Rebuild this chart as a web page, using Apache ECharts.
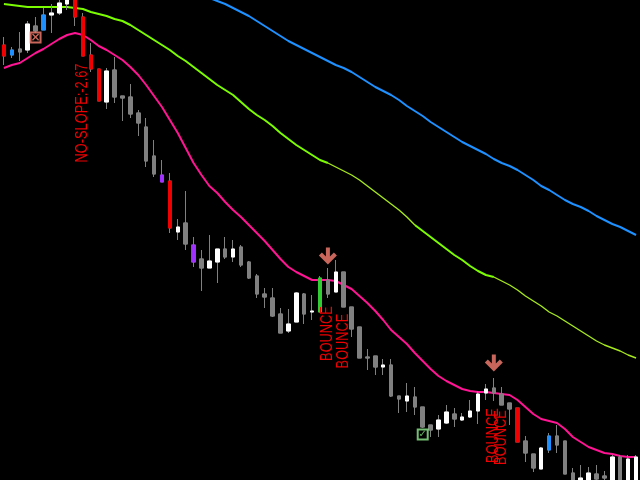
<!DOCTYPE html>
<html>
<head>
<meta charset="utf-8">
<script src="https://cdn.jsdelivr.net/npm/echarts@6/dist/echarts.min.js"></script>
<style>
html,body{margin:0;padding:0;background:#000;}
#chart{width:640px;height:480px;}
</style>
</head>
<body>
<div id="chart"></div>
<script>
// ---- data (price in points) ----
var bars = [];
for (var i = 1; i <= 81; i++) bars.push('Bar ' + i);

var open  = [435,425,431,430,454,450,465,467,476,485,463,425,411,378,410,384,383,367,353,324,305,299,248,257,235,221,212,218,231,223,233,218,204,186,182,166,149,158,186,168,168,200,188,208,173,153,123,124,113,115,84,79,83,73,55,51,57,66,60,63,69,87,92,86,77,72,39,26,11,30,44,39,7,-6,-6,6,4,-5,23,-5,-5];
var close = [424,430,428,456,449,465,467,477,482,463,424,411,379,409,383,382,366,357,319,306,298,252,253,236,218,212,219,231,223,231,215,202,186,183,164,147,156,187,166,169,202,186,208,173,151,122,122,113,115,84,81,84,73,53,50,60,68,61,63,69,86,91,87,75,71,38,27,12,32,44,35,6,-5,2,7,1,2,23,-5,21,23];
var low   = [415,422,419,427,447,450,447,465,470,454,424,408,379,371,377,359,362,344,313,303,298,247,240,230,213,189,212,197,221,218,213,201,182,172,163,147,147,158,156,160,168,182,188,173,143,122,110,105,105,83,67,68,65,52,43,43,56,53,59,62,56,80,79,75,55,38,18,8,11,27,27,6,-10,-10,-10,-4,-5,-10,-10,-10,-10];
var high  = [443,433,448,459,463,472,476,483,488,490,467,437,411,412,423,384,396,370,362,340,320,307,261,289,243,230,245,231,243,240,235,219,206,192,192,172,171,188,187,185,204,212,220,208,173,153,131,124,121,121,84,97,93,73,55,65,75,72,67,80,89,96,102,93,77,72,44,26,33,47,55,39,12,15,13,15,9,25,25,25,25];
// indicator signal per bar: '' none, 'S' sell bar, 'B' buy bar, 'P' warning bar, 'U' bounce bar
var signal = ['S','B','','','','B','','','','S','S','S','S','','','','','','','','P','S','','','P','','','','','','','','','','','','','','','','U','','','','','','','','','','','','','','','','','','','','','','','','','S','','','','B','','','','','','','','','','',''];

var maFast = [412,415,417,422,427,431,436,441,445,447,445,440,434,430,425,420,413,405,395,384,373,360,347,332,317,305,294,287,278,270,263,255,247,239,230,221,213,208,204,200,200,200,199,195,191,184,177,169,160,150,143,136,127,119,111,104,99,95,91,89,88,88,87,86,85,80,73,66,61,59,57,51,43,38,33,30,27,26,24,23,23];
var maMid  = [476,475,474,473,473,473,473,473,473,472,471,468,466,464,461,459,455,450,445,440,435,430,424,419,413,407,401,395,390,385,378,371,365,360,354,347,341,335,330,325,320,317,313,309,305,300,294,288,282,276,270,263,255,249,243,237,231,225,220,214,209,205,203,199,195,190,184,179,174,168,164,159,154,149,144,139,135,132,129,125,122];
var maSlowVisible = [482,479,476,472,468,464,459,454,449,444,439,435,431,427,423,419,415,412,408,403,398,393,389,385,380,374,369,364,358,353,348,343,338,334,330,326,321,317,314,310,305,300,294,290,285,280,276,273,269,264,260,256,253,249,245];
var maSlow = [];
for (var j = 0; j < 81 - maSlowVisible.length; j++) maSlow.push(null);
maSlow = maSlow.concat(maSlowVisible);

var textNotes = [
  {bar: 10, price: 367, text: 'NO-SLOPE:-2.67'},
  {bar: 41, price: 146.5, text: 'BOUNCE'},
  {bar: 43, price: 139, text: 'BOUNCE'},
  {bar: 62, price: 44.5, text: 'BOUNCE'},
  {bar: 63, price: 42.5, text: 'BOUNCE'}
];
var arrowNotes = [ {bar: 41, price: 224}, {bar: 62, price: 117} ];
var crossNotes = [ {bar: 4, price: 442.5} ];
var checkNotes = [ {bar: 53, price: 45.5} ];

// ---- build series ----
var GRAY = '#808080', WHITE = '#ffffff';
var sigColor = {S: '#f00000', B: '#1e90ff', P: '#a030ff', U: '#32cd32'};
var fullData = [], bodyData = [];
for (var k = 0; k < open.length; k++) {
  fullData.push([open[k], close[k], low[k], high[k]]);
  var c = signal[k] ? sigColor[signal[k]] : (close[k] > open[k] ? WHITE : GRAY);
  bodyData.push({
    value: [open[k], close[k], Math.min(open[k], close[k]), Math.max(open[k], close[k])],
    itemStyle: {color: c, color0: c, borderColor: c, borderColor0: c}
  });
}
function pick(arr, ranges) {
  return arr.map(function (v, idx) {
    for (var r = 0; r < ranges.length; r++) if (idx >= ranges[r][0] && idx <= ranges[r][1]) return v;
    return null;
  });
}
var arrowPath = 'path://M7,0L11,0L11,9L15,5L18,8L9,17L0,8L3,5L7,9Z';

var chart = echarts.init(document.getElementById('chart'), null, {renderer: 'canvas'});
chart.setOption({
  backgroundColor: '#000000',
  animation: false,
  grid: {left: -3.5, right: -4.5, top: 0, bottom: 0, containLabel: false},
  xAxis: {type: 'category', data: bars, boundaryGap: true, show: false},
  yAxis: {type: 'value', min: 0, max: 480, show: false, splitLine: {show: false}},
  series: [
    {type: 'line', data: maSlow, showSymbol: false, symbol: 'none', clip: true,
     lineStyle: {color: '#1e90ff', width: 2}, z: 1},
    {type: 'line', data: pick(maMid, [[0, 41], [52, 62]]), showSymbol: false, symbol: 'none', clip: true,
     lineStyle: {color: '#7cfc00', width: 2}, z: 1},
    {type: 'line', data: pick(maMid, [[41, 52], [62, 80]]), showSymbol: false, symbol: 'none', clip: true,
     lineStyle: {color: '#a6e81e', width: 1.4}, z: 1},
    {type: 'line', data: maFast, showSymbol: false, symbol: 'none', clip: true,
     lineStyle: {color: '#ff1493', width: 2}, z: 2},
    {type: 'candlestick', data: fullData, barWidth: 4, clip: true, z: 3,
     itemStyle: {color: GRAY, color0: GRAY, borderColor: GRAY, borderColor0: GRAY, borderWidth: 1}},
    {type: 'candlestick', data: bodyData, barWidth: 4, clip: true, z: 4,
     itemStyle: {borderWidth: 1}},
    {type: 'scatter', z: 5, silent: true, symbol: arrowPath, symbolSize: [18, 17],
     itemStyle: {color: '#fa8072'},
     data: arrowNotes.map(function (a) { return [a.bar, a.price]; })},
    {type: 'scatter', z: 5, silent: true, symbol: 'rect', symbolSize: 10,
     itemStyle: {color: '#000', borderColor: '#fa8072', borderWidth: 2},
     label: {show: true, position: 'inside', formatter: '\u00d7', color: '#fa8072', fontSize: 12, fontWeight: 'bold', fontFamily: 'DejaVu Sans'},
     data: crossNotes.map(function (a) { return [a.bar, a.price]; })},
    {type: 'scatter', z: 5, silent: true, symbol: 'rect', symbolSize: 10,
     itemStyle: {color: '#000', borderColor: '#90ee90', borderWidth: 2},
     label: {show: true, position: 'inside', formatter: '\u2713', color: '#7ee07e', fontSize: 10, fontWeight: 'bold', fontFamily: 'DejaVu Sans'},
     data: checkNotes.map(function (a) { return [a.bar, a.price]; })}
  ]
});

// rotated, horizontally condensed text notes placed through the chart's scales
var g = textNotes.map(function (t) {
  var p = chart.convertToPixel({gridIndex: 0}, [t.bar, t.price]);
  return {
    type: 'text', x: p[0], y: p[1], rotation: Math.PI / 2, scaleX: 0.8, z: 10, silent: true,
    style: {text: t.text, fill: '#f00000', align: 'center', verticalAlign: 'middle',
            font: "16px 'Liberation Sans', Arial, sans-serif"}
  };
});
chart.setOption({graphic: g});
</script>
</body>
</html>
